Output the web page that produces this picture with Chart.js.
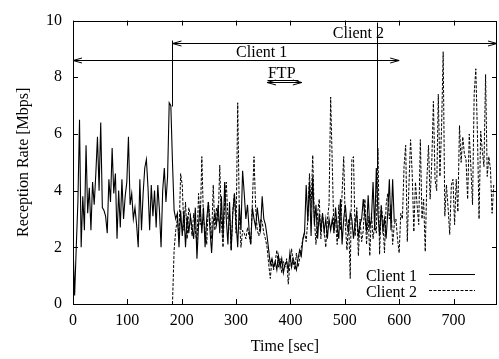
<!DOCTYPE html>
<html>
<head>
<meta charset="utf-8">
<script src="https://cdn.jsdelivr.net/npm/chart.js@4.4.0/dist/chart.umd.min.js"></script>
<style>
  html, body { margin: 0; padding: 0; background: #fff; }
</style>
</head>
<body>
<canvas id="chart" width="499" height="359"></canvas>
<script>
// sample interval of both traces (sec)
const STEP = 3;

// Client 1 : reception rate [Mbps], one value every STEP sec from t = 0
const client1Start = 0;
const client1Rates = [
  2.1, 0.3, 2.0, 3.6, 6.5, 2.0, 3.8, 2.6, 5.6, 3.2,
  4.1, 2.6, 4.3, 3.5, 4.6, 5.9, 4.0, 6.4, 3.4, 3.3,
  3.1, 2.5, 4.4, 3.6, 5.5, 3.9, 4.6, 2.3, 4.0, 2.7,
  4.4, 3.0, 3.8, 4.3, 5.9, 3.5, 3.9, 3.0, 3.4, 2.8,
  2.0, 4.4, 2.6, 3.9, 4.8, 5.1, 4.1, 2.6, 4.2, 3.1,
  4.0, 2.7, 4.2, 3.3, 2.0, 4.0, 4.8, 3.6, 4.5, 7.1,
  7.0, 5.0, 3.3, 3.0, 3.2, 2.0, 3.3, 2.4, 3.3, 2.0,
  3.1, 2.5, 3.1, 2.7, 2.3, 3.4, 1.6, 2.8, 3.5, 2.5,
  3.4, 2.0, 3.0, 3.6, 2.6, 1.8, 2.9, 3.2, 2.8, 3.5,
  2.5, 3.8, 2.3, 4.3, 3.0, 2.1, 3.6, 1.9, 3.2, 3.9,
  2.9, 2.0, 3.5, 2.6, 4.7, 3.9, 3.0, 3.5, 2.6, 2.1,
  3.4, 3.0, 2.7, 3.4, 2.9, 2.6, 3.8, 3.0, 2.8, 2.4,
  1.9, 1.4, 1.6, 1.3, 1.5, 1.2, 1.7, 1.3, 1.6, 1.1,
  1.4, 1.5, 1.2, 1.8, 1.3, 1.6, 1.4, 1.2, 1.6, 1.9,
  1.7, 2.3, 2.55, 4.2, 2.9, 4.3, 2.4, 4.5, 2.8, 3.5,
  2.3, 3.2, 2.55, 3.2, 2.55, 3.0, 2.3, 3.0, 2.6, 3.0,
  2.55, 3.4, 2.7, 2.3, 3.7, 2.1, 3.0, 3.5, 2.8, 2.55,
  3.2, 3.0, 2.3, 2.9, 3.2, 2.4, 2.8, 3.0, 3.7, 3.1,
  2.55, 3.84, 2.7, 3.0, 4.3, 2.6, 4.8, 3.2, 2.4, 3.4,
  2.6, 3.0, 2.3, 3.2, 4.4, 2.6, 4.4, 2.9
];

// Client 2 : starts at t = 183
const client2Start = 183;
const client2Rates = [
  0, 1.9, 2.6, 3.0, 2.4, 4.6, 4.2, 2.6, 3.6, 2.3,
  3.4, 3.1, 2.4, 3.2, 2.6, 2.1, 3.9, 2.8, 5.2, 3.0,
  2.6, 2.1, 3.6, 3.0, 2.3, 4.2, 2.6, 3.4, 2.9, 4.9,
  2.9, 2.0, 3.6, 4.3, 3.0, 3.2, 1.9, 3.3, 3.9, 2.5,
  7.1, 3.1, 2.0, 2.6, 2.5, 2.3, 2.7, 2.4, 2.1, 3.6,
  5.2, 3.4, 2.6, 2.4, 3.0, 2.9, 2.5, 2.3, 2.0, 1.4,
  0.9, 1.6, 1.2, 1.5, 1.9, 1.3, 1.6, 1.1, 1.5, 1.3,
  1.6, 0.7, 1.4, 1.95, 1.5, 1.2, 1.8, 1.3, 1.6, 2.0,
  2.3, 2.5, 2.2, 3.0, 4.6, 3.4, 5.25, 3.0, 2.1, 3.2,
  3.7, 2.3, 3.2, 2.6, 2.0, 3.0, 3.5, 7.3, 4.9, 2.5,
  3.0, 2.1, 3.5, 2.6, 3.9, 5.2, 2.8, 1.9, 3.0, 0.9,
  5.1, 5.2, 2.4, 3.4, 1.7, 3.0, 2.2, 2.6, 3.7, 2.1,
  3.1, 1.7, 3.2, 2.3, 2.8, 2.5, 5.5, 1.75, 3.5, 3.0,
  1.8, 3.5, 3.9, 3.0, 3.5, 2.1, 2.8, 3.0, 2.3, 1.8,
  3.2, 3.0, 4.85, 5.6, 2.2, 4.2, 5.8, 4.6, 2.55, 4.3,
  3.5, 2.8, 5.8, 3.0, 3.7, 1.85, 4.4, 5.6, 3.7, 5.0,
  7.15, 4.4, 4.0, 7.4, 4.5, 6.2, 8.9, 3.1, 4.2, 3.4,
  2.45, 4.2, 4.4, 2.8, 4.4, 3.25, 6.3, 5.0, 5.9, 5.3,
  5.1, 3.7, 6.0, 4.8, 3.5, 7.4, 8.3, 6.0, 3.0, 6.1,
  5.4, 4.85, 8.1, 4.5, 5.2, 4.75, 3.2, 4.2
];

const seriesNames = ["Client 1", "Client 2"];
const xTicks = [0, 100, 200, 300, 400, 500, 600, 700];
const yTicks = [0, 2, 4, 6, 8, 10];
const xMax = 780;
const yMax = 10;

// annotations, in data units
const arrowMarks = [
  { from: [0, 8.62], to: [600, 8.62] },
  { from: [183, 9.22], to: [780, 9.22] },
  { from: [357, 7.82], to: [421, 7.82] }
];
const lineMarks = [
  { from: [183, 9.3], to: [183, 7.0] },
  { from: [559, 9.95], to: [559, 4.8] },
  { from: [357, 7.9], to: [413, 7.9] }
];
const textMarks = [
  { text: "Client 1", x: 347, y: 8.73 },
  { text: "Client 2", x: 525, y: 9.38 },
  { text: "FTP", x: 384, y: 7.98 }
];

const FONT = "'Liberation Serif', 'Times New Roman', serif";

function toPoints(start, values) {
  return values.map((v, i) => ({ x: start + i * STEP, y: v }));
}

const crisp = (v) => Math.round(v) + 0.5;

function drawArrowHead(ctx, x, y, dir) {
  // gnuplot style open head pointing along dir (+1 right, -1 left)
  ctx.beginPath();
  ctx.moveTo(x - dir * 9, y - 2.5);
  ctx.lineTo(x, y);
  ctx.lineTo(x - dir * 9, y + 2.5);
  ctx.stroke();
}

const gnuplotLook = {
  id: "gnuplotLook",
  afterDatasetsDraw(chart) {
    const { ctx, chartArea: a, scales } = chart;
    const sx = scales.x, sy = scales.y;
    ctx.save();
    ctx.strokeStyle = "#000";
    ctx.fillStyle = "#000";
    ctx.lineWidth = 1;
    ctx.setLineDash([]);

    // border
    ctx.strokeRect(crisp(a.left), crisp(a.top), Math.round(a.right - a.left) - 1, Math.round(a.bottom - a.top));

    // inward ticks on all four sides
    const tl = 5;
    ctx.beginPath();
    xTicks.forEach((v) => {
      const px = crisp(sx.getPixelForValue(v));
      ctx.moveTo(px, a.bottom); ctx.lineTo(px, a.bottom - tl);
      ctx.moveTo(px, a.top); ctx.lineTo(px, a.top + tl);
    });
    yTicks.forEach((v) => {
      const py = crisp(sy.getPixelForValue(v));
      ctx.moveTo(a.left, py); ctx.lineTo(a.left + tl, py);
      ctx.moveTo(a.right, py); ctx.lineTo(a.right - tl, py);
    });
    ctx.stroke();

    // arrows
    arrowMarks.forEach((m) => {
      const x1 = sx.getPixelForValue(m.from[0]), x2 = sx.getPixelForValue(m.to[0]);
      const py = crisp(sy.getPixelForValue(m.from[1]));
      ctx.beginPath();
      ctx.moveTo(x1, py); ctx.lineTo(x2, py);
      ctx.stroke();
      drawArrowHead(ctx, x1, py, -1);
      drawArrowHead(ctx, x2, py, 1);
    });

    // plain lines
    lineMarks.forEach((m) => {
      ctx.beginPath();
      ctx.moveTo(crisp(sx.getPixelForValue(m.from[0])), crisp(sy.getPixelForValue(m.from[1])));
      ctx.lineTo(crisp(sx.getPixelForValue(m.to[0])), crisp(sy.getPixelForValue(m.to[1])));
      ctx.stroke();
    });

    // labels
    ctx.font = "16px " + FONT;
    ctx.textAlign = "center";
    ctx.textBaseline = "alphabetic";
    textMarks.forEach((m) => {
      ctx.fillText(m.text, sx.getPixelForValue(m.x), sy.getPixelForValue(m.y));
    });

    // key, bottom right like gnuplot
    ctx.textAlign = "right";
    chart.data.datasets.forEach((ds, i) => {
      const base = a.bottom - 23 + i * 16;
      ctx.fillText(ds.label, a.right - 80, base);
      ctx.beginPath();
      ctx.lineWidth = ds.borderWidth;
      ctx.setLineDash(ds.borderDash || []);
      ctx.moveTo(a.right - 68, crisp(base - 7));
      ctx.lineTo(a.right - 22, crisp(base - 7));
      ctx.stroke();
    });
    ctx.restore();
  }
};

new Chart(document.getElementById("chart"), {
  type: "line",
  data: {
    datasets: [
      {
        label: seriesNames[0],
        data: toPoints(client1Start, client1Rates),
        borderColor: "#000",
        borderWidth: 1.1,
        pointRadius: 0,
        order: 1
      },
      {
        label: seriesNames[1],
        data: toPoints(client2Start, client2Rates),
        borderColor: "#000",
        borderWidth: 1,
        borderDash: [3, 1.5],
        pointRadius: 0,
        order: 0
      }
    ]
  },
  options: {
    responsive: false,
    animation: false,
    events: [],
    layout: { padding: { top: 14, right: 2, left: 0, bottom: 0 } },
    plugins: {
      legend: { display: false },
      tooltip: { enabled: false }
    },
    elements: { line: { tension: 0 } },
    scales: {
      x: {
        type: "linear",
        min: 0,
        max: xMax,
        afterBuildTicks: (s) => { s.ticks = xTicks.map((v) => ({ value: v })); },
        afterFit: (s) => { s.height = 55; },
        grid: { display: false, drawTicks: false },
        border: { display: false },
        ticks: { color: "#000", font: { family: FONT, size: 16 }, padding: 7, maxRotation: 0 },
        title: {
          display: true,
          text: "Time [sec]",
          color: "#000",
          font: { family: FONT, size: 16 },
          padding: { top: 0, bottom: 3 }
        }
      },
      y: {
        min: 0,
        max: yMax,
        afterBuildTicks: (s) => { s.ticks = yTicks.map((v) => ({ value: v })); },
        afterFit: (s) => { s.width = 73; },
        grid: { display: false, drawTicks: false },
        border: { display: false },
        ticks: { color: "#000", font: { family: FONT, size: 16 }, padding: 11 },
        title: {
          display: true,
          text: "Reception Rate [Mbps]",
          color: "#000",
          font: { family: FONT, size: 16 },
          padding: { top: 14, bottom: 0 }
        }
      }
    }
  },
  plugins: [gnuplotLook]
});
</script>
</body>
</html>
